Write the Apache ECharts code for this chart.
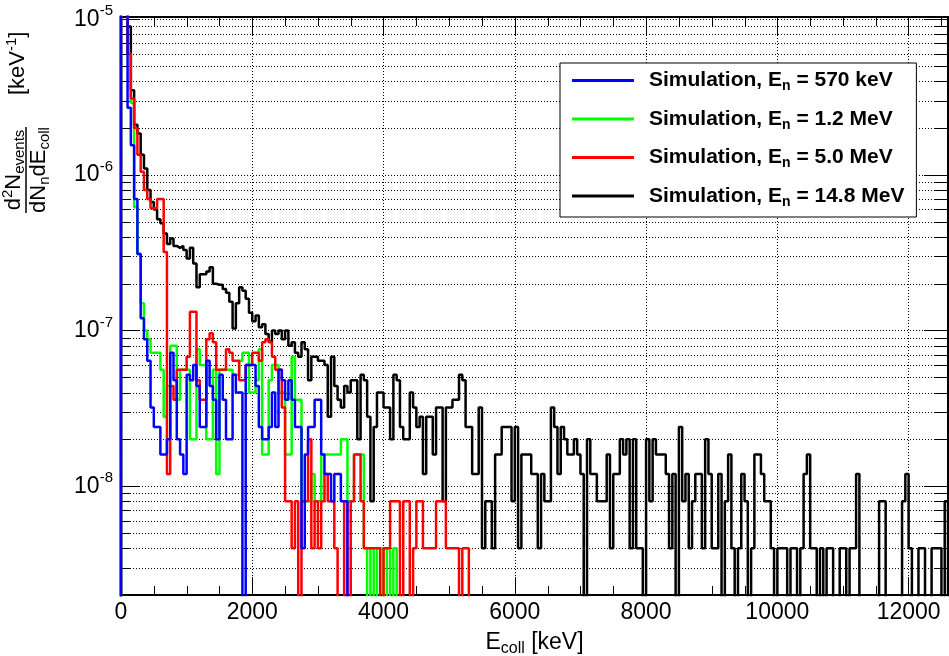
<!DOCTYPE html>
<html>
<head>
<meta charset="utf-8">
<script src="https://cdn.jsdelivr.net/npm/echarts@6/dist/echarts.min.js"></script>
<style>
html,body{margin:0;padding:0;background:#fff;}
#chart{width:949px;height:656px;}
</style>
</head>
<body>
<div id="chart"></div>
<script>
// ---------------- DATA ----------------
// Histogram bin width (keV); bins start at 0 keV.
const BIN_WIDTH = 50;
// All values below are in units of 1e-9 keV^-1 (0 = empty bin).
const UNIT = 1e-9;

const blue570 = [30000,12000,2700,1550,700,310,120,
  88,64,32,24,24,16,16,20,72,48,
  20,16,12,52,48,60,44,24,24,64,
  44,36,20,52,36,20,20,52,40,40,
  0,60,60,60,44,24,20,20,24,40,
  24,56,48,36,48,36,24,24,4,16,
  24,24,36,36,16,12,12,8,12,12,
  8,8,0];

const green1200 = [25000,12000,6000,2900,620,310,150,
  100,88,72,72,72,56,28,44,80,80,
  36,56,56,56,20,20,76,60,60,20,
  20,56,12,56,56,56,56,52,52,64,
  72,72,40,40,48,76,16,16,48,60,
  60,40,40,16,16,68,36,36,8,8,
  8,12,8,8,16,16,16,16,16,16,
  20,20,8,8,16,16,16,4,0,4,
  0,4,4,0,4,0,4];

const red5000 = [30000,13000,6000,3100,2000,1350,1050,800,700,610,610,700,700,320,
  12,44,36,56,56,56,68,132,132,48,
  36,36,88,96,84,56,56,56,76,72,
  64,64,48,48,60,60,72,72,64,84,
  88,84,68,56,56,32,8,8,4,8,
  0,8,8,20,4,8,4,8,12,8,
  8,4,0,0,8,0,8,16,16,8,
  4,4,4,4,4,0,4,4,8,8,
  8,0,8,8,0,4,8,8,4,4,
  4,4,8,8,8,4,4,4,4,0,
  4,4];

const black14800 = [40000,15000,9000,3500,2100,1850,1350,1100,800,670,
  600,520,490,420,360,390,350,340,350,330,
  290,340,270,190,230,230,240,255,200,197,
  197,185,175,153,103,150,190,180,160,130,
  115,125,105,110,95,85,100,95,
  100,88,100,80,84,72,68,84,76,48,
  68,68,64,64,60,28,68,44,36,32,
  44,40,48,48,20,52,48,28,8,24,
  40,40,32,32,20,52,48,24,20,20,
  40,32,24,28,12,28,28,16,32,32,
  8,32,32,36,36,52,48,24,24,12,
  12,32,4,8,8,4,16,16,24,24,
  24,8,24,4,16,16,16,12,12,4,
  12,8,8,32,24,12,
  24,20,16,16,20,16,12,0,20,12,
  12,8,8,8,16,4,12,12,20,16,
  20,4,20,4,4,0,20,8,20,16,
  16,16,12,4,12,0,24,8,12,4,
  8,12,12,4,20,12,4,4,12,0,
  8,16,4,0,4,12,8,0,4,16,
  16,12,8,8,4,0,4,4,4,0,
  4,4,0,4,12,16,4,4,0,4,
  0,4,4,0,0,4,4,0,4,4,
  12,0,0,0,0,0,0,8,8,0,
  0,0,0,0,8,12,4,0,0,4,
  4,0,0,4,4,4,0,8];

const seriesNames = ['Simulation, E_n = 570 keV', 'Simulation, E_n = 1.2 MeV',
                     'Simulation, E_n = 5.0 MeV', 'Simulation, E_n = 14.8 MeV'];
const seriesColors = ['#0000ff', '#00ff00', '#ff0000', '#000000'];

// Axis ranges and tick values
const X_MIN = 0, X_MAX = 12600, X_MAJOR = 2000;
const xMinorTicks = [500,1000,1500,2500,3000,3500,4500,5000,5500,6500,7000,7500,
                     8500,9000,9500,10500,11000,11500,12500];
const Y_MIN = 2e-9, Y_MAX = 1.035e-5;
const yMinorTicks = [3e-9,4e-9,5e-9,6e-9,7e-9,8e-9,9e-9,
                     2e-8,3e-8,4e-8,5e-8,6e-8,7e-8,8e-8,9e-8,
                     2e-7,3e-7,4e-7,5e-7,6e-7,7e-7,8e-7,9e-7,
                     2e-6,3e-6,4e-6,5e-6,6e-6,7e-6,8e-6,9e-6];

// ---------------- BUILD ----------------
const FLOOR = 1e-11; // empty bins fall below the axis minimum and are clipped
function histPoints(vals) {
  const pts = [[0, FLOOR]];
  vals.forEach((v, k) => pts.push([k * BIN_WIDTH, v > 0 ? v * UNIT : FLOOR]));
  const n = vals.length, last = vals[n - 1];
  pts.push([n * BIN_WIDTH, last > 0 ? last * UNIT : FLOOR]);
  pts.push([n * BIN_WIDTH, FLOOR]);
  return pts;
}

const FONT = 'Liberation Sans, Arial, Helvetica, sans-serif';
const dotted = [1, 2];

function legendLabel(name) {
  const parts = name.split('E_n');
  return parts[0] + 'E{sub|n}' + parts[1];
}

function isDecade(v) {
  const e = Math.log10(v);
  return Math.abs(e - Math.round(e)) < 1e-6;
}

const histData = [blue570, green1200, red5000, black14800];
const drawOrder = [3, 1, 2, 0]; // black at the back, blue in front

const lineSeries = drawOrder.map(i => ({
  name: seriesNames[i],
  type: 'line',
  step: 'end',
  data: histPoints(histData[i]),
  symbol: 'none',
  showSymbol: false,
  clip: true,
  color: seriesColors[i],
  lineStyle: { color: seriesColors[i], width: 2.5 },
  z: 3,
  silent: true,
  animation: false
}));

const minorYSeries = {
  type: 'custom',
  xAxisIndex: 0, yAxisIndex: 0,
  silent: true, z: 1, animation: false,
  data: yMinorTicks.map(v => [X_MIN, v]),
  renderItem: function (params, api) {
    const v = api.value(1);
    const p0 = api.coord([X_MIN, v]);
    const p1 = api.coord([X_MAX, v]);
    const y = Math.round(p0[1]) + 0.5;
    return {
      type: 'group',
      children: [
        { type: 'line', shape: { x1: p0[0], y1: y, x2: p1[0], y2: y },
          style: { stroke: '#000', lineWidth: 1, lineDash: dotted } },
        { type: 'line', shape: { x1: p0[0], y1: y, x2: p0[0] + 9, y2: y },
          style: { stroke: '#000', lineWidth: 1 } },
        { type: 'line', shape: { x1: p1[0] - 13, y1: y, x2: p1[0], y2: y },
          style: { stroke: '#000', lineWidth: 1 } }
      ]
    };
  }
};

const minorXSeries = {
  type: 'custom',
  xAxisIndex: 0, yAxisIndex: 0,
  silent: true, z: 1, animation: false,
  data: xMinorTicks.map(v => [v, Y_MIN]),
  renderItem: function (params, api) {
    const v = api.value(0);
    const pb = api.coord([v, Y_MIN]);
    const pt = api.coord([v, Y_MAX]);
    const x = Math.round(pb[0]) + 0.5;
    return {
      type: 'group',
      children: [
        { type: 'line', shape: { x1: x, y1: pb[1], x2: x, y2: pb[1] - 9 },
          style: { stroke: '#000', lineWidth: 1 } },
        { type: 'line', shape: { x1: x, y1: pt[1], x2: x, y2: pt[1] + 9 },
          style: { stroke: '#000', lineWidth: 1 } }
      ]
    };
  }
};

const axisLineStyle = { show: true, onZero: false, lineStyle: { color: '#000', width: 2 } };

const option = {
  animation: false,
  backgroundColor: '#fff',
  grid: { left: 121, right: 1, top: 17, bottom: 61, containLabel: false, outerBoundsMode: 'none' },
  xAxis: [
    {
      type: 'value', position: 'bottom', min: X_MIN, max: X_MAX, interval: X_MAJOR,
      axisLine: axisLineStyle,
      axisTick: { show: true, inside: true, length: 18, lineStyle: { color: '#000', width: 1 } },
      splitLine: { show: true, lineStyle: { color: '#000', width: 1, type: dotted } },
      axisLabel: {
        show: true, margin: 6, color: '#000', fontSize: 23, fontFamily: FONT,
        formatter: v => (v % X_MAJOR === 0 ? String(v) : '')
      },
      name: 'E{sub|coll} [keV]',
      nameLocation: 'middle', nameGap: 28,
      nameTextStyle: {
        color: '#000', fontSize: 23, fontFamily: FONT, lineHeight: 28,
        rich: { sub: { fontSize: 16, fontFamily: FONT, color: '#000', padding: [12, 0, 0, 0] } }
      }
    },
    {
      type: 'value', position: 'top', min: X_MIN, max: X_MAX, interval: X_MAJOR,
      axisLine: axisLineStyle,
      axisTick: { show: true, inside: true, length: 18, lineStyle: { color: '#000', width: 1 } },
      splitLine: { show: false },
      axisLabel: { show: false }
    }
  ],
  yAxis: [
    {
      type: 'log', logBase: 10, position: 'left', min: Y_MIN, max: Y_MAX,
      axisLine: axisLineStyle,
      axisTick: { show: true, inside: true, length: 18, lineStyle: { color: '#000', width: 1 } },
      splitLine: { show: true, lineStyle: { color: '#000', width: 1, type: dotted } },
      axisLabel: {
        show: true, margin: 8, color: '#000', fontFamily: FONT,
        formatter: v => (isDecade(v) ? '{b|10}{s|' + Math.round(Math.log10(v)) + '}' : ''),
        rich: {
          b: { fontSize: 23, fontFamily: FONT, color: '#000' },
          s: { fontSize: 15, fontFamily: FONT, color: '#000', padding: [0, 0, 16, 0] }
        }
      }
    },
    {
      type: 'log', logBase: 10, position: 'right', min: Y_MIN, max: Y_MAX,
      axisLine: axisLineStyle,
      axisTick: { show: true, inside: true, length: 24, lineStyle: { color: '#000', width: 1 } },
      splitLine: { show: false },
      axisLabel: { show: false }
    }
  ],
  legend: {
    show: true,
    orient: 'vertical',
    left: 560, top: 63,
    data: seriesNames,
    selectedMode: false,
    icon: 'rect',
    itemWidth: 62, itemHeight: 3,
    itemGap: 13,
    padding: [5, 12, 8, 12],
    backgroundColor: '#fff',
    borderColor: '#000', borderWidth: 1, borderRadius: 0,
    formatter: legendLabel,
    textStyle: {
      color: '#000', fontSize: 21, fontWeight: 'bold', fontFamily: FONT,
      lineHeight: 25, padding: [0, 0, 0, 10],
      rich: { sub: { fontSize: 14, fontWeight: 'bold', fontFamily: FONT, color: '#000', padding: [12, 0, 0, 0] } }
    },
    z: 10
  },
  graphic: [
    {
      type: 'group', x: 26, y: 213, rotation: Math.PI / 2, z: 10,
      children: [
        { type: 'text', x: 43, y: -12,
          style: { text: 'd{sup|2}N{sub|events}', align: 'center', verticalAlign: 'middle',
                   fill: '#000', fontSize: 22, fontFamily: FONT,
                   rich: { sup: { fontSize: 15, fontFamily: FONT, fill: '#000', padding: [0, 0, 12, 0] },
                           sub: { fontSize: 15, fontFamily: FONT, fill: '#000', padding: [12, 0, 0, 0] } } } },
        { type: 'line', shape: { x1: 0, y1: 0, x2: 86, y2: 0 }, style: { stroke: '#000', lineWidth: 1.5 } },
        { type: 'text', x: 43, y: 13,
          style: { text: 'dN{sub|n}dE{sub|coll}', align: 'center', verticalAlign: 'middle',
                   fill: '#000', fontSize: 22, fontFamily: FONT,
                   rich: { sub: { fontSize: 15, fontFamily: FONT, fill: '#000', padding: [12, 0, 0, 0] } } } },
        { type: 'text', x: 118, y: -8,
          style: { text: '[keV{sup|-1}]', align: 'left', verticalAlign: 'middle',
                   fill: '#000', fontSize: 22, fontFamily: FONT,
                   rich: { sup: { fontSize: 15, fontFamily: FONT, fill: '#000', padding: [0, 0, 12, 0] } } } }
      ]
    }
  ],
  series: [minorYSeries, minorXSeries].concat(lineSeries)
};

const chart = echarts.init(document.getElementById('chart'), null, { renderer: 'canvas' });
chart.setOption(option);
</script>
</body>
</html>
